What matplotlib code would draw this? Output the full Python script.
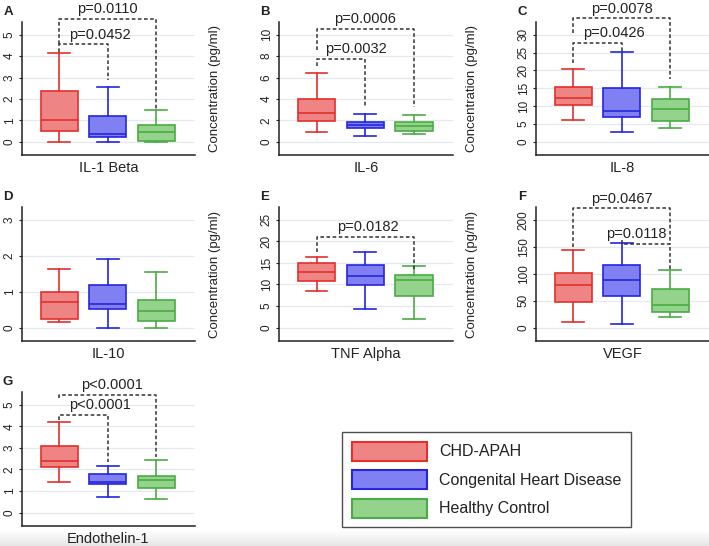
import matplotlib.pyplot as plt
import numpy as np
from matplotlib.patches import Patch

plt.rcParams['font.family'] = ['Liberation Sans', 'DejaVu Sans']

groups = ["CHD-APAH", "Congenital Heart Disease", "Healthy Control"]
face_colors = ["#ef8484", "#8080f3", "#93d38b"]
edge_colors = ["#e2302c", "#2525de", "#4cab46"]

panels = ["A", "B", "C", "D", "E", "F", "G"]
markers = ["IL-1 Beta", "IL-6", "IL-8", "IL-10", "TNF Alpha", "VEGF",
           "Endothelin-1"]
tick_max = [5, 10, 30, 3, 25, 200, 5]
tick_step = [1, 2, 5, 1, 5, 50, 1]

# whisker low, q1, median, q3, whisker high (one row per marker)
chd_apah = [
    [0.0, 0.52, 1.0, 2.38, 4.15],
    [0.86, 1.9, 2.7, 3.97, 6.4],
    [6.1, 10.3, 12.3, 15.4, 20.4],
    [0.16, 0.25, 0.7, 1.0, 1.63],
    [8.4, 10.7, 12.8, 15.0, 16.4],
    [10.6, 47, 79, 102, 145],
    [1.4, 2.13, 2.39, 3.07, 4.21],
]
chd = [
    [0.0, 0.22, 0.36, 1.19, 2.55],
    [0.5, 1.24, 1.6, 1.88, 2.62],
    [2.8, 6.8, 8.6, 15.1, 25.2],
    [0.0, 0.52, 0.65, 1.18, 1.92],
    [4.2, 9.9, 11.9, 14.5, 17.6],
    [6, 58, 89, 115.5, 158],
    [0.73, 1.32, 1.43, 1.77, 2.17],
]
healthy = [
    [0.0, 0.05, 0.45, 0.79, 1.5],
    [0.75, 1.03, 1.5, 1.86, 2.5],
    [3.7, 5.9, 9.1, 12.1, 15.3],
    [0.0, 0.17, 0.47, 0.76, 1.55],
    [2.0, 7.3, 11.0, 12.3, 14.2],
    [19, 28.5, 41, 71.5, 107],
    [0.61, 1.15, 1.51, 1.72, 2.42],
]

# p-value brackets: panel, group a, group b, bar level,
# left end, right end, label, label shift (in group units)
brackets = [
    (0, 1, 2, 4.55, 4.2, 2.9, "p=0.0452", 0.33),
    (0, 1, 3, 5.74, 4.55, 1.55, "p=0.0110", 0.0),
    (1, 1, 2, 7.75, 7.07, 3.2, "p=0.0032", 0.31),
    (1, 1, 3, 10.55, 8.6, 3.2, "p=0.0006", 0.0),
    (2, 1, 2, 27.7, 22.1, 25.5, "p=0.0426", 0.34),
    (2, 1, 3, 34.6, 30.5, 17.5, "p=0.0078", 0.0),
    (4, 1, 3, 21.1, 17.5, 13.5, "p=0.0182", 0.06),
    (5, 1, 3, 221.7, 150, 155, "p=0.0467", 0.0),
    (5, 2, 3, 155, 163, 108.7, "p=0.0118", -0.2),
    (6, 1, 2, 4.53, 4.3, 2.36, "p<0.0001", 0.34),
    (6, 1, 3, 5.47, 5.31, 2.59, "p<0.0001", 0.08),
]

W, H = 709, 546
ROWS = [(22, 155), (207, 341), (392, 526)]
COLS = [(22, 195), (279, 453), (536, 709)]
TEXT = "#222222"


def pixel_rect(col, row):
    """Axes rectangle in figure fractions from pixel bounds."""
    x0, x1 = COLS[col]
    y0, y1 = ROWS[row]
    return [x0 / W, 1 - y1 / H, (x1 - x0) / W, (y1 - y0) / H]


def draw_panel(fig, k):
    row, col = divmod(k, 3)
    ax = fig.add_axes(pixel_rect(col, row))
    stats = []
    for series in (chd_apah, chd, healthy):
        lo, q1, med, q3, hi = series[k]
        stats.append(dict(whislo=lo, q1=q1, med=med, q3=q3, whishi=hi))
    parts = ax.bxp(stats, positions=[1, 2, 3], widths=0.76, capwidths=0.45,
                   patch_artist=True, showfliers=False)
    for i in range(3):
        ec = edge_colors[i]
        parts['boxes'][i].set(facecolor=face_colors[i], edgecolor=ec,
                              linewidth=1.2)
        parts['medians'][i].set(color=ec, linewidth=1.2)
        for art in parts['whiskers'][2 * i:2 * i + 2]:
            art.set(color=ec, linewidth=1.2)
        for art in parts['caps'][2 * i:2 * i + 2]:
            art.set(color=ec, linewidth=1.2)

    top = tick_max[k]
    ticks = np.arange(0, top + tick_step[k] / 2, tick_step[k])
    ax.set_yticks(ticks)
    ax.set_yticklabels([str(int(t)) for t in ticks], rotation=90,
                       va='center', fontsize=8.5, color=TEXT)
    ax.set_ylim(-0.125 * top, 1.12 * top)
    ax.set_xlim(0.23, 3.8)
    ax.set_xticks([])
    ax.tick_params(axis='y', length=2, width=0.8, pad=2.5, colors=TEXT)
    ax.grid(axis='y', color="#e3e9ef", linewidth=0.9)
    ax.set_axisbelow(True)
    for side in ('top', 'right'):
        ax.spines[side].set_visible(False)
    for side in ('left', 'bottom'):
        ax.spines[side].set_color(TEXT)
        ax.spines[side].set_linewidth(1.1)

    ax.set_xlabel(markers[k], fontsize=10.5, color=TEXT, labelpad=4)
    if col > 0:
        ax.set_ylabel("Concentration (pg/ml)", fontsize=9.5, color=TEXT)
        ax.yaxis.set_label_coords(-58 / 174, 0.5)
    ax.text(-14 / 174, 1.0 + 10 / 134, panels[k], transform=ax.transAxes,
            fontsize=9.5, fontweight='bold', color=TEXT,
            ha='center', va='center')

    for p, a, b, h, left, right, label, shift in brackets:
        if p != k:
            continue
        ax.plot([a, a, b, b], [left, h, h, right], color="#333333",
                linewidth=1.1, dashes=(2.4, 1.6), clip_on=False)
        ax.annotate(label, xy=((a + b) / 2 + shift, h), xytext=(0, 7),
                    textcoords='offset points', ha='center', va='center',
                    fontsize=10.5, color=TEXT, annotation_clip=False)


def main():
    fig = plt.figure(figsize=(W / 100, H / 100), dpi=100)
    fig.patch.set_facecolor('white')

    band = fig.add_axes([0, 0, 1, 16 / H], zorder=-10)
    shade = np.linspace(1.0, 0.9, 32).reshape(-1, 1)
    band.imshow(shade, aspect='auto', cmap='gray', vmin=0, vmax=1,
                extent=[0, 1, 0, 1])
    band.axis('off')

    for k in range(len(markers)):
        draw_panel(fig, k)

    handles = [Patch(facecolor=face_colors[i], edgecolor=edge_colors[i],
                     linewidth=1.5) for i in range(3)]
    leg = fig.legend(handles, groups, loc='upper left',
                     bbox_to_anchor=(342 / W, 1 - 432 / H),
                     borderaxespad=0, fontsize=11.5, frameon=True,
                     fancybox=False, handlelength=4.75, handleheight=1.45,
                     labelspacing=0.6, handletextpad=0.72, borderpad=0.6)
    leg.get_frame().set_edgecolor(TEXT)
    leg.get_frame().set_linewidth(1.0)
    for t in leg.get_texts():
        t.set_color(TEXT)

    fig.savefig("out.png", dpi=100)


if __name__ == "__main__":
    main()
